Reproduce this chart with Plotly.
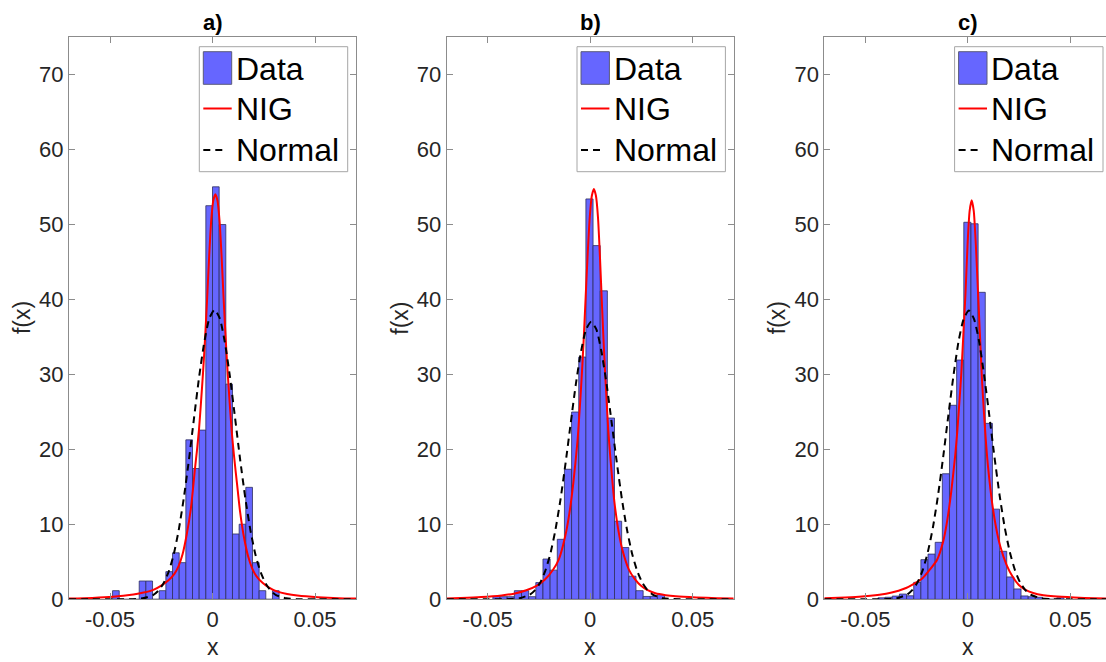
import numpy as np
import plotly.graph_objects as go

W, H = 1106, 662

# ---------------- data ----------------
titles = ["a)", "b)", "c)"]
x_tick_vals = [-0.05, 0, 0.05]
x_tick_text = ["-0.05", "0", "0.05"]
y_tick_vals = [0, 10, 20, 30, 40, 50, 60, 70]
legend_labels = ["Data", "NIG", "Normal"]

# histogram: first bin left edge, bin width, bar heights
a_bin_start = -0.04875
a_bin_width = 0.00325
a_heights = [1.15, 0, 0, 0, 2.44, 2.44, 0, 1.15, 3.69, 6.2, 4.89, 21.26, 17.44, 22.56,
             52.48, 55.0, 49.97, 28.69, 8.71, 10.01, 14.93, 4.89, 1.15, 0, 1.15]

b_bin_start = -0.04747
b_bin_width = 0.00349
b_heights = [0.35, 0.35, 0.35, 1.15, 1.15, 0.35, 2.23, 5.37, 3.89, 8.0, 17.34, 24.97, 32.3,
             53.38, 47.16, 41.13, 24.17, 10.41, 6.9, 3.08, 1.15, 0.38, 0.4, 0.62]

c_bin_start = -0.04383
c_bin_width = 0.00349
c_heights = [0.2, 0.27, 0.43, 0.7, 0.47, 2.26, 5.29, 6.03, 7.6, 16.74, 25.87, 31.9,
             50.27, 50.07, 40.93, 23.46, 12.02, 6.4, 2.98, 1.38, 0.45, 0.34, 0.27, 0.1, 0, 0.2]

# NIG density curves
a_nig_x = [-0.07, -0.0586, -0.0486, -0.0386, -0.0336, -0.0286, -0.0246, -0.0216, -0.0186, -0.0166,
           -0.0146, -0.0126, -0.0106, -0.0096, -0.0086, -0.0076, -0.0066, -0.0056, -0.0046, -0.0036,
           -0.0026, -0.0016, -0.0006, 0.0004, 0.0014,
           0.0024, 0.0034, 0.0044, 0.0054, 0.0064, 0.0074, 0.0084, 0.0094, 0.0104, 0.0114, 0.0124,
           0.0134, 0.0154, 0.0174, 0.0194, 0.0214, 0.0244, 0.0274, 0.0314, 0.0364, 0.0414, 0.0514,
           0.0614, 0.07]
a_nig_y = [0.1, 0.18, 0.33, 0.65, 0.9, 1.3, 1.9, 2.5, 3.4, 4.4, 6.0, 8.6, 12.0, 14.5, 17.3, 19.8,
           22.6, 26.3, 30.3, 34.9, 40.2, 45.9, 50.6, 53.2, 54.0,
           53.2, 50.6, 45.9, 40.2, 34.9, 30.2, 26.1, 22.3, 19.4, 16.8, 14.3, 11.8, 8.2, 5.7, 4.1,
           3.1, 2.2, 1.6, 1.05, 0.7, 0.5, 0.28, 0.15, 0.1]

b_nig_x = [-0.07, -0.0632, -0.0532, -0.0432, -0.0372, -0.0312, -0.0262, -0.0222, -0.0182, -0.0152,
           -0.0122, -0.0102, -0.0082, -0.0062, -0.0052, -0.0042, -0.0032, -0.0022, -0.0012, -0.0002,
           0.0008, 0.0018,
           0.0028, 0.0038, 0.0048, 0.0058, 0.0068, 0.0078, 0.0088, 0.0098, 0.0118, 0.0138, 0.0158,
           0.0188, 0.0218, 0.0248, 0.0278, 0.0318, 0.0368, 0.0418, 0.0518, 0.0618, 0.07]
b_nig_y = [0.12, 0.18, 0.3, 0.52, 0.75, 1.2, 1.8, 2.6, 3.9, 5.4, 8.4, 11.4, 15.6, 21.1, 25.0, 29.4,
           34.5, 40.4, 46.2, 51.0, 53.8, 54.7,
           53.8, 50.9, 45.4, 38.9, 32.8, 27.5, 22.6, 19.0, 13.0, 9.1, 6.5, 4.0, 2.7, 1.8, 1.25, 0.8,
           0.55, 0.4, 0.25, 0.15, 0.1]

c_nig_x = [-0.07, -0.0631, -0.0531, -0.0431, -0.0371, -0.0311, -0.0261, -0.0221, -0.0181, -0.0151,
           -0.0121, -0.0101, -0.0081, -0.0061, -0.0051, -0.0041, -0.0031, -0.0021, -0.0011, -0.0001,
           0.0009, 0.0019,
           0.0029, 0.0039, 0.0049, 0.0059, 0.0069, 0.0079, 0.0089, 0.0099, 0.0119, 0.0139, 0.0159,
           0.0189, 0.0219, 0.0249, 0.0279, 0.0319, 0.0369, 0.0419, 0.0519, 0.0619, 0.07]
c_nig_y = [0.15, 0.2, 0.33, 0.6, 0.9, 1.4, 2.1, 2.8, 4.1, 5.2, 7.6, 10.4, 14.3, 19.3, 22.5, 26.3,
           30.4, 35.7, 40.9, 47.4, 51.8, 53.2,
           51.8, 47.4, 41.4, 35.4, 29.4, 24.8, 20.8, 17.6, 12.8, 9.4, 7.0, 4.6, 3.0, 1.9, 1.3, 0.85,
           0.55, 0.4, 0.24, 0.14, 0.1]

# Normal density curves
a_norm_x = [-0.07, -0.059, -0.049, -0.039, -0.034, -0.029, -0.0265, -0.024, -0.0215, -0.019, -0.0165,
            -0.014, -0.0115, -0.009, -0.0065, -0.004, -0.0015, 0.001, 0.0035, 0.006, 0.0085, 0.011,
            0.0135, 0.016, 0.0185, 0.021, 0.0235, 0.026, 0.0285, 0.031, 0.036, 0.041, 0.051, 0.061, 0.07]
a_norm_y = [0, 0, 0, 0.02, 0.13, 0.57, 1.12, 2.08, 3.6, 5.9, 9.2, 13.5, 18.6, 24.2, 29.7, 34.3, 37.5,
            38.6, 37.5, 34.3, 29.7, 24.2, 18.6, 13.5, 9.2, 5.9, 3.6, 2.08, 1.12, 0.57, 0.13, 0.02, 0, 0, 0]

b_norm_x = [-0.07, -0.0595, -0.0495, -0.0395, -0.0345, -0.0295, -0.027, -0.0245, -0.022, -0.0195, -0.017,
            -0.0145, -0.012, -0.0095, -0.007, -0.0045, -0.002, 0.0005, 0.003, 0.0055, 0.008, 0.0105,
            0.013, 0.0155, 0.018, 0.0205, 0.023, 0.0255, 0.028, 0.0305, 0.0355, 0.0405, 0.0505, 0.0605, 0.07]
b_norm_y = [0, 0, 0, 0.03, 0.14, 0.62, 1.2, 2.17, 3.73, 6.0, 9.2, 13.3, 18.2, 23.5, 28.7, 33.0, 36.0,
            37.0, 36.0, 33.0, 28.7, 23.5, 18.2, 13.3, 9.2, 6.0, 3.73, 2.17, 1.2, 0.62, 0.14, 0.03, 0, 0, 0]

c_norm_x = b_norm_x[:]
c_norm_y = [0, 0, 0, 0.03, 0.15, 0.65, 1.25, 2.26, 3.88, 6.3, 9.6, 13.9, 19.0, 24.5, 29.8, 34.4, 37.4,
            38.5, 37.4, 34.4, 29.8, 24.5, 19.0, 13.9, 9.6, 6.3, 3.88, 2.26, 1.25, 0.65, 0.15, 0.03, 0, 0, 0]

# ---------------- layout geometry (pixels) ----------------
panel_left = [69.0, 446.7, 824.3]
panel_w = 287.0
plot_top, plot_bot = 36.8, 599.3
x_ranges = [[-0.07, 0.07], [-0.07, 0.07], [-0.07, -0.07 + 0.14 * (W - 824.3) / panel_w]]


def px(x):
    return x / W


def py(y):
    return 1 - y / H


BAR_COLOR = "#6666ff"
BAR_EDGE = "#2f2f5e"
AX_COLOR = "#8c8c8c"
FONT = "Liberation Sans, Arial, sans-serif"
TICK_FONT = dict(family=FONT, size=22, color="#262626")
DASH = "7px,5px"

hist = [(a_bin_start, a_bin_width, a_heights),
        (b_bin_start, b_bin_width, b_heights),
        (c_bin_start, c_bin_width, c_heights)]
nig = [(a_nig_x, a_nig_y), (b_nig_x, b_nig_y), (c_nig_x, c_nig_y)]
norm = [(a_norm_x, a_norm_y), (b_norm_x, b_norm_y), (c_norm_x, c_norm_y)]

fig = go.Figure()
shapes, annotations = [], []

for i in range(3):
    sfx = "" if i == 0 else str(i + 1)
    xa, ya = "x" + sfx, "y" + sfx
    start, w, h = hist[i]
    centers = start + (np.arange(len(h)) + 0.5) * w
    fig.add_trace(go.Bar(x=centers, y=h, width=w, xaxis=xa, yaxis=ya, name=legend_labels[0],
                         marker=dict(color=BAR_COLOR, line=dict(color=BAR_EDGE, width=0.8)),
                         showlegend=False))
    fig.add_trace(go.Scatter(x=nig[i][0], y=nig[i][1], xaxis=xa, yaxis=ya, mode="lines",
                             name=legend_labels[1], showlegend=False,
                             line=dict(color="#ff0000", width=2, shape="spline", smoothing=0.6)))
    fig.add_trace(go.Scatter(x=norm[i][0], y=norm[i][1], xaxis=xa, yaxis=ya, mode="lines",
                             name=legend_labels[2], showlegend=False,
                             line=dict(color="#000000", width=2, dash=DASH, shape="spline", smoothing=0.6)))

    left = panel_left[i]
    right = min(left + panel_w, W)
    fig.update_layout(**{
        "xaxis" + sfx: dict(domain=[px(left), px(right)], range=x_ranges[i], anchor=ya,
                            tickvals=x_tick_vals, ticktext=x_tick_text, ticks="inside", ticklen=6,
                            tickcolor=AX_COLOR, showline=True, linecolor=AX_COLOR, linewidth=1,
                            mirror="ticks", showgrid=False, zeroline=False, tickfont=TICK_FONT,
                            fixedrange=True, automargin=False),
        "yaxis" + sfx: dict(domain=[py(plot_bot), py(plot_top)], range=[0, 75], anchor=xa,
                            tickvals=y_tick_vals, ticks="inside", ticklen=6, tickcolor=AX_COLOR,
                            showline=True, linecolor=AX_COLOR, linewidth=1,
                            mirror=("ticks" if i < 2 else False), showgrid=False, zeroline=False,
                            tickfont=TICK_FONT, fixedrange=True, automargin=False),
    })

    cx = left + panel_w / 2
    annotations.append(dict(text="<b>" + titles[i] + "</b>", x=px(cx), y=py(22.8), xref="paper",
                            yref="paper", showarrow=False, xanchor="center", yanchor="middle",
                            font=dict(family=FONT, size=22, color="#000000")))
    annotations.append(dict(text="x", x=px(cx), y=py(647.3), xref="paper", yref="paper",
                            showarrow=False, xanchor="center", yanchor="middle",
                            font=dict(family=FONT, size=23, color="#262626")))
    annotations.append(dict(text="f(x)", x=px(left - 47.0), y=py((plot_top + plot_bot) / 2),
                            xref="paper", yref="paper", showarrow=False, textangle=-90,
                            xanchor="center", yanchor="middle",
                            font=dict(family=FONT, size=23, color="#262626")))

    # legend (drawn manually to match the reference's large legend)
    ox = left - 69.0
    shapes.append(dict(type="rect", xref="paper", yref="paper",
                       x0=px(199.3 + ox), x1=px(min(347.7 + ox, W - 0.5)), y0=py(171.7), y1=py(46.7),
                       line=dict(color="#a6a6a6", width=1), fillcolor="#ffffff", layer="above"))
    shapes.append(dict(type="rect", xref="paper", yref="paper",
                       x0=px(203.3 + ox), x1=px(231.7 + ox), y0=py(84.3), y1=py(51.7),
                       line=dict(color="#5a5a7a", width=1), fillcolor=BAR_COLOR, layer="above"))
    shapes.append(dict(type="line", xref="paper", yref="paper",
                       x0=px(203.3 + ox), x1=px(231.7 + ox), y0=py(108.5), y1=py(108.5),
                       line=dict(color="#ff0000", width=2), layer="above"))
    shapes.append(dict(type="line", xref="paper", yref="paper",
                       x0=px(203.3 + ox), x1=px(224.0 + ox), y0=py(150.0), y1=py(150.0),
                       line=dict(color="#000000", width=2, dash=DASH), layer="above"))
    for lab, yc in zip(legend_labels, [68.8, 109.2, 150.3]):
        annotations.append(dict(text=lab, x=px(234.0 + ox), y=py(yc), xref="paper", yref="paper",
                                showarrow=False, xanchor="left", yanchor="middle",
                                font=dict(family=FONT, size=32, color="#000000")))

fig.update_layout(width=W, height=H, autosize=False, margin=dict(l=0, r=0, t=0, b=0),
                  paper_bgcolor="#ffffff", plot_bgcolor="#ffffff", showlegend=False,
                  barmode="overlay", shapes=shapes, annotations=annotations,
                  font=dict(family=FONT))

fig.write_html("out.html")
